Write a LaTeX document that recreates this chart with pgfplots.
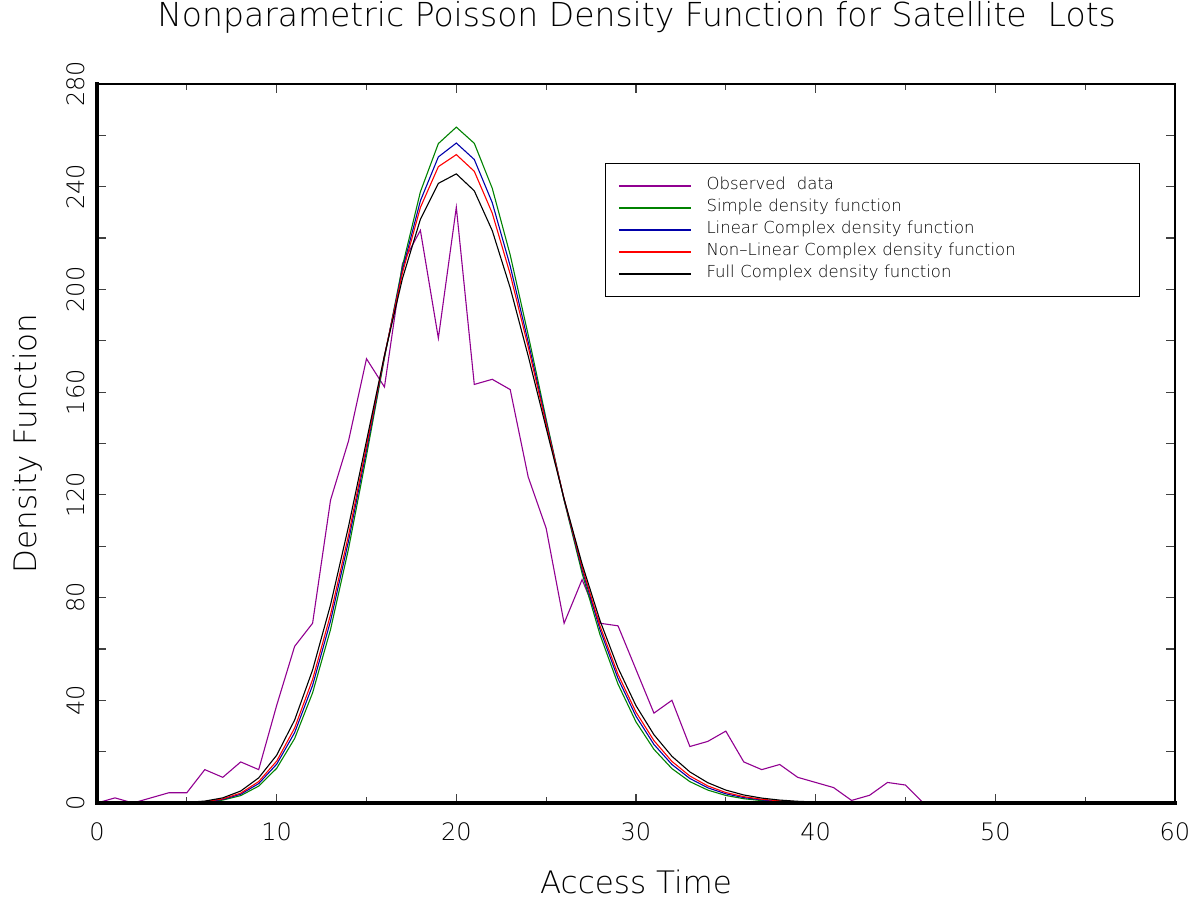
\documentclass[border=0pt]{standalone}
\usepackage{fontspec}
\setmainfont{DejaVu Sans}[UprightFont=* ExtraLight]
\usepackage{pgfplots}
\usepackage{pgfplotstable}
\pgfplotsset{compat=1.18}
\definecolor{obspurple}{RGB}{145,0,145}
\definecolor{simgreen}{RGB}{0,130,0}
\definecolor{linblue}{RGB}{0,0,170}
\definecolor{nlred}{RGB}{255,0,0}

\pgfplotstableread{
x obs green blue red black
0 0 0 0 0 0
1 2 0 0 0 0
2 0 0 0 0 0
3 2 0.01 0.01 0.01 0.02
4 4 0.03 0.04 0.05 0.07
5 4 0.11 0.15 0.18 0.24
6 13 0.39 0.49 0.57 0.75
7 10 1.13 1.38 1.59 2.00
8 16 2.89 3.42 3.85 4.67
9 13 6.58 7.56 8.34 9.79
10 38 13.5 15.1 16.3 18.6
11 61 25.1 27.4 29.2 32.3
12 70 42.9 45.8 48.1 51.8
13 118 67.6 70.9 73.4 77.2
14 141 99.0 102.0 104.3 107.7
15 173 135.3 137.4 138.9 141.0
16 162 173.3 173.9 174.2 174.3
17 210 209.0 207.6 206.4 204.2
18 223 238.0 234.5 231.9 227.3
19 181 256.8 251.6 247.8 241.3
20 232 263.2 257.0 252.5 245.0
21 163 256.9 250.6 246.0 238.4
22 165 239.4 233.8 229.7 222.9
23 161 213.4 209.1 205.9 200.6
24 127 182.3 179.6 177.6 174.1
25 107 149.5 148.4 147.6 146.0
26 70 117.9 118.2 118.4 118.4
27 87 89.5 90.9 91.8 93.1
28 70 65.5 67.5 68.9 71.0
29 69 46.3 48.5 50.1 52.6
30 52 31.6 33.8 35.4 37.9
31 35 20.9 22.8 24.3 26.6
32 40 13.4 15.0 16.2 18.2
33 22 8.32 9.54 10.5 12.1
34 24 5.02 5.92 6.64 7.9
35 28 2.94 3.57 4.09 5.03
36 16 1.67 2.10 2.46 3.13
37 13 0.93 1.20 1.45 1.91
38 15 0.50 0.67 0.83 1.14
39 10 0.26 0.37 0.47 0.67
40 8 0.13 0.20 0.26 0.38
41 6 0.07 0.10 0.14 0.21
42 1 0.03 0.05 0.07 0.11
43 3 0.01 0.02 0.04 0.06
44 8 0 0.01 0.02 0.03
45 7 0 0 0.01 0.02
46 0 0 0 0 0.01
47 0 0 0 0 0
48 0 0 0 0 0
49 0 0 0 0 0
50 0 0 0 0 0
51 0 0 0 0 0
52 0 0 0 0 0
53 0 0 0 0 0
54 0 0 0 0 0
55 0 0 0 0 0
56 0 0 0 0 0
57 0 0 0 0 0
58 0 0 0 0 0
59 0 0 0 0 0
60 0 0 0 0 0
}\datatable

\begin{document}
\begin{tikzpicture}
\useasboundingbox (0,0) rectangle (1198pt,900pt);
\begin{axis}[
  at={(97pt,97pt)}, anchor=south west,
  scale only axis, width=1078pt, height=719pt,
  xmin=0, xmax=60, ymin=0, ymax=280,
  xtick={0,10,...,60}, minor xtick={5,15,...,55},
  ytick={0,20,...,280},
  yticklabels={0,{},40,{},80,{},120,{},160,{},200,{},240,{},280},
  tick align=inside,
  major tick length=9pt, minor tick length=6pt,
  tick style={line width=1.2pt, black!75},
  axis line style={line width=2.5pt},
  clip=false,
  /pgf/number format/assume math mode=true,
  tick label style={font=\fontsize{24}{28}\selectfont},
  xticklabel style={inner sep=0pt, anchor=north},
  xticklabel shift=19pt,
  yticklabel style={rotate=90, anchor=south, inner sep=0pt},
  yticklabel shift=12pt,
  title={Nonparametric Poisson Density Function for Satellite\ \ Lots},
  title style={at={(axis description cs:0.5005,1.0723)}, anchor=base, inner sep=0pt, font=\fontsize{33}{40}\selectfont},
  xlabel={Access Time},
  xlabel style={at={(axis description cs:0.5,-0.1252)}, anchor=base, inner sep=0pt, font=\fontsize{31}{36}\selectfont},
  ylabel={Density Function},
  ylabel style={at={(axis description cs:-0.0557,0.5)}, anchor=base, inner sep=0pt, font=\fontsize{31}{36}\selectfont},
  legend cell align=left,
  legend image code/.code={\draw[#1] (0pt,0pt) -- (72pt,0pt);},
  legend style={at={(rel axis cs:0.4712,0.8901)}, anchor=north west,
    draw=black, line width=1pt, fill=white,
    inner xsep=13pt, inner ysep=11.5pt, column sep=15pt, row sep=0pt,
    font=\fontsize{16.5}{20}\selectfont,
    nodes={inner xsep=0pt, inner ysep=3.5pt, text height=11pt, text depth=4pt, text width=420pt}},
]
\addplot[obspurple, line width=1.1pt] table[x=x, y=obs] {\datatable};
\addlegendentry{Observed\ \ data}
\addplot[simgreen, line width=1.1pt] table[x=x, y=green] {\datatable};
\addlegendentry{Simple density function}
\addplot[linblue, line width=1.1pt] table[x=x, y=blue] {\datatable};
\addlegendentry{Linear Complex density function}
\addplot[nlred, line width=1.1pt] table[x=x, y=red] {\datatable};
\addlegendentry{Non--Linear Complex density function}
\addplot[black, line width=1.1pt] table[x=x, y=black] {\datatable};
\addlegendentry{Full Complex density function}
\draw[line width=3.5pt, line cap=rect] (rel axis cs:0,1) -- (rel axis cs:0,0) -- (rel axis cs:1,0);
\end{axis}
\end{tikzpicture}
\end{document}
